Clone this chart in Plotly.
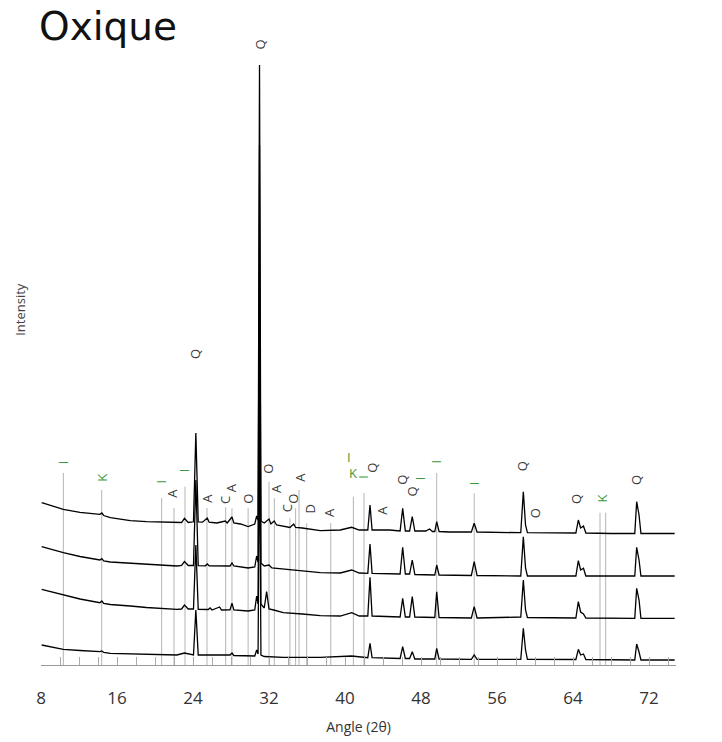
import plotly.graph_objects as go

# ---------------- data ----------------
series_names = ["t1", "t7", "t28", "t210"]

t1_points = [
    (8.07, 363), (10.35, 297), (12.1, 267), (14.2, 247), (14.4, 260), (14.6, 235), (15.3, 213),
    (17.4, 183), (19.1, 173), (20.7, 170), (22.3, 160), (22.8, 165), (23.1, 207), (23.5, 165),
    (24.05, 172), (24.3, 1060), (24.55, 170), (25.0, 168), (25.5, 210), (25.7, 168), (26.5, 160),
    (27.4, 180), (27.6, 160), (28.1, 220), (28.3, 160), (29.0, 150), (29.8, 125), (30.5, 150),
    (30.7, 230), (30.85, 190), (31.0, 4740), (31.15, 180), (31.5, 160), (32.0, 200), (32.2, 150),
    (32.55, 180), (32.8, 140), (33.5, 130), (34.2, 115), (34.6, 150), (34.8, 115), (35.5, 110),
    (37.4, 83), (39.5, 90), (40.7, 117), (41.5, 90), (42.4, 90), (42.63, 340), (42.85, 90),
    (44.7, 90), (45.8, 80), (46.07, 307), (46.35, 80), (46.8, 80), (47.08, 223), (47.35, 80),
    (48.5, 80), (48.9, 100), (49.2, 75), (49.45, 75), (49.65, 173), (49.9, 75), (51.0, 70),
    (53.3, 70), (53.6, 157), (53.9, 70), (56.0, 65), (58.5, 63), (58.77, 473), (59.0, 140),
    (59.2, 63), (61.0, 60), (64.3, 60), (64.56, 190), (64.8, 110), (65.1, 130), (65.35, 60),
    (68.0, 55), (70.5, 55), (70.7, 373), (70.95, 240), (71.15, 55), (74.7, 55),
]

t7_points = [
    (8.07, 343), (10.35, 283), (12.1, 245), (14.2, 210), (14.4, 223), (14.6, 200), (15.3, 190),
    (17.4, 177), (19.1, 165), (22.3, 150), (22.8, 155), (23.1, 195), (23.5, 155), (24.05, 155),
    (24.3, 1010), (24.55, 153), (25.3, 152), (25.5, 170), (25.7, 152), (27.9, 150), (28.1, 180),
    (28.3, 150), (29.8, 130), (30.5, 140), (30.7, 250), (30.85, 190), (31.0, 4360), (31.15, 180),
    (31.5, 150), (32.0, 160), (32.3, 130), (33.5, 120), (35.5, 100), (37.4, 83), (39.5, 80),
    (40.7, 110), (41.5, 80), (42.4, 77), (42.63, 370), (42.85, 77), (45.8, 70), (46.07, 337),
    (46.35, 70), (46.8, 70), (47.08, 210), (47.35, 65), (49.45, 60), (49.65, 160), (49.9, 60),
    (53.3, 55), (53.6, 193), (53.9, 55), (58.5, 50), (58.77, 443), (59.0, 130), (59.2, 50),
    (64.3, 50), (64.56, 203), (64.8, 110), (65.1, 127), (65.35, 50), (70.5, 50), (70.7, 337),
    (70.95, 210), (71.15, 50), (74.7, 50),
]

t28_points = [
    (8.07, 337), (10.35, 280), (12.1, 240), (14.2, 203), (14.4, 220), (14.6, 195), (15.3, 185),
    (17.4, 170), (19.1, 155), (22.3, 137), (22.8, 140), (23.1, 180), (23.5, 140), (24.05, 140),
    (24.3, 780), (24.55, 137), (25.6, 135), (25.8, 150), (26.0, 130), (26.8, 160), (27.0, 130),
    (27.9, 132), (28.1, 197), (28.3, 130), (29.8, 120), (30.5, 130), (30.7, 270), (30.85, 190),
    (31.0, 3060), (31.15, 190), (31.5, 150), (31.75, 313), (32.0, 140), (32.5, 130), (33.5, 103),
    (35.5, 90), (37.4, 73), (39.5, 70), (40.7, 103), (41.5, 70), (42.4, 70), (42.63, 457),
    (42.85, 70), (45.8, 60), (46.07, 247), (46.35, 60), (46.8, 60), (47.08, 263), (47.35, 60),
    (49.45, 55), (49.65, 313), (49.9, 55), (53.3, 50), (53.6, 163), (53.9, 50), (58.5, 60),
    (58.77, 430), (59.0, 130), (59.2, 55), (64.3, 50), (64.56, 213), (64.8, 110), (65.1, 90),
    (65.35, 50), (70.5, 47), (70.7, 347), (70.95, 230), (71.15, 47), (74.7, 47),
]

t210_points = [
    (8.07, 200), (10.35, 157), (12.1, 145), (14.2, 133), (14.4, 140), (14.6, 125), (15.3, 117),
    (19.1, 110), (22.3, 100), (23.1, 120), (24.05, 100), (24.3, 550), (24.55, 100), (27.9, 100),
    (28.1, 120), (28.3, 95), (30.5, 90), (30.7, 150), (30.85, 110), (31.0, 2450), (31.15, 100),
    (31.5, 85), (33.5, 77), (37.4, 77), (40.7, 90), (42.4, 73), (42.63, 217), (42.85, 73),
    (45.8, 65), (46.07, 183), (46.35, 65), (46.8, 65), (47.08, 133), (47.35, 60), (49.45, 60),
    (49.65, 167), (49.9, 60), (53.3, 57), (53.6, 100), (53.9, 57), (58.5, 57), (58.77, 367),
    (59.0, 150), (59.2, 57), (64.3, 55), (64.56, 157), (64.8, 100), (65.1, 110), (65.35, 55),
    (70.5, 50), (70.7, 210), (70.95, 130), (71.15, 50), (74.7, 50),
]

# phase reference lines: angle (2θ) and label
line_angles = [10.35, 14.39, 20.7, 22.0, 23.16, 25.47, 27.44, 28.1, 29.8, 32.0, 32.56, 34.2,
               34.8, 35.16, 35.97, 38.5, 40.88, 42.0, 49.65, 53.6, 66.84, 67.44]
line_tops = [1920, 1750, 1670, 1570, 1783, 1570, 1577, 1567, 1567, 1833, 1667, 1467,
             1567, 1750, 1417, 1420, 1683, 1720, 1920, 1717, 1523, 1523]

# phase labels (rotated)
label_texts = ["I", "K", "I", "A", "I", "Q", "A", "C", "A", "O", "Q", "O", "A", "C", "O", "A",
               "D", "A", "I", "Q", "A", "Q", "Q", "I", "I", "I", "Q", "O", "Q", "K", "Q"]
label_angles = [10.28, 14.39, 20.6, 21.76, 23.08, 24.21, 25.44, 27.37, 28.0, 29.72, 31.0, 31.93,
                32.81, 33.89, 34.56, 35.26, 36.21, 38.32, 41.89, 42.81, 43.86, 45.97, 47.02,
                47.89, 49.55, 53.58, 58.66, 60.0, 64.39, 67.08, 70.63]
label_y = [2023, 1870, 1833, 1720, 1950, 3110, 1670, 1650, 1767, 1665, 6200, 1967,
           1767, 1567, 1667, 1883, 1555, 1520, 1883, 1970, 1550, 1850, 1733,
           1867, 2033, 1817, 1990, 1517, 1657, 1667, 1850]

# upright I / K pair at ~40.5°
upright_texts = ["I", "K"]
upright_angles = [40.42, 40.81]
upright_y = [2083, 1920]

green_labels = {"I", "K"}

x_ticks = [8, 16, 24, 32, 40, 48, 56, 64, 72]

# ---------------- layout constants ----------------
offsets = [1260, 840, 420, 0]
series_label_y = [1433, 1033, 567, 183]
FONT = "Open Sans"
GREEN = "#3a9a3e"
DARK = "#3a3a3a"
GREY = "#b4b4b4"

fig = go.Figure()

# reference lines
lx, ly = [], []
for a, top in zip(line_angles, line_tops):
    lx += [a, a, None]
    ly += [0, top, None]
fig.add_trace(go.Scatter(x=lx, y=ly, mode="lines", line=dict(color=GREY, width=1),
                         hoverinfo="skip", showlegend=False))

all_points = [t1_points, t7_points, t28_points, t210_points]
for name, pts, off in zip(series_names, all_points, offsets):
    fig.add_trace(go.Scatter(
        x=[p[0] for p in pts], y=[p[1] + off for p in pts], mode="lines",
        line=dict(color="black", width=1.3), name=name, showlegend=False))

annotations = []
for txt, a, y in zip(label_texts, label_angles, label_y):
    annotations.append(dict(x=a, y=y, xref="x", yref="y", text=txt, showarrow=False,
                            textangle=-90, xanchor="center", yanchor="middle",
                            font=dict(family=FONT, size=13,
                                      color=GREEN if txt in green_labels else DARK)))
for txt, a, y in zip(upright_texts, upright_angles, upright_y):
    annotations.append(dict(x=a, y=y, xref="x", yref="y", text=txt, showarrow=False,
                            xanchor="center", yanchor="middle",
                            font=dict(family=FONT, size=13, color=GREEN)))
for name, y in zip(series_names, series_label_y):
    annotations.append(dict(x=75.6, y=y, xref="x", yref="y", text=name, showarrow=False,
                            xanchor="left", yanchor="middle",
                            font=dict(family=FONT, size=17, color=DARK)))
annotations.append(dict(x=-0.033, y=0.573, xref="paper", yref="paper", text="Intensity",
                        showarrow=False, textangle=-90, xanchor="center", yanchor="middle",
                        font=dict(family=FONT, size=13, color="#444")))
annotations.append(dict(x=-0.007, y=1.0298, xref="paper", yref="paper", text="Oxique",
                        showarrow=False, xanchor="left", yanchor="middle",
                        font=dict(family="DejaVu Sans", size=39, color="#111")))

fig.update_layout(
    width=722, height=742,
    margin=dict(l=41, r=46, t=45, b=77),
    plot_bgcolor="white", paper_bgcolor="white",
    annotations=annotations,
    xaxis=dict(range=[8, 74.84], tickvals=x_ticks, showgrid=False, zeroline=False,
               showline=True, linecolor="#999", linewidth=1, automargin=False,
               ticks="inside", ticklen=8, tickcolor="#aaa", tickwidth=1,
               minor=dict(dtick=2, tick0=8, ticks="inside", ticklen=8, tickcolor="#aaa"),
               ticklabelstandoff=18,
               tickfont=dict(family=FONT, size=17, color="#333"),
               title=dict(text="Angle (2θ)", standoff=13,
                          font=dict(family=FONT, size=14, color="#333"))),
    yaxis=dict(range=[0, 6200], visible=False),
)

# remove the default 8px page margin so the figure fills the window exactly
fig.write_html("out.html", config={"displayModeBar": False},
               post_script="document.body.style.margin='0px';")
